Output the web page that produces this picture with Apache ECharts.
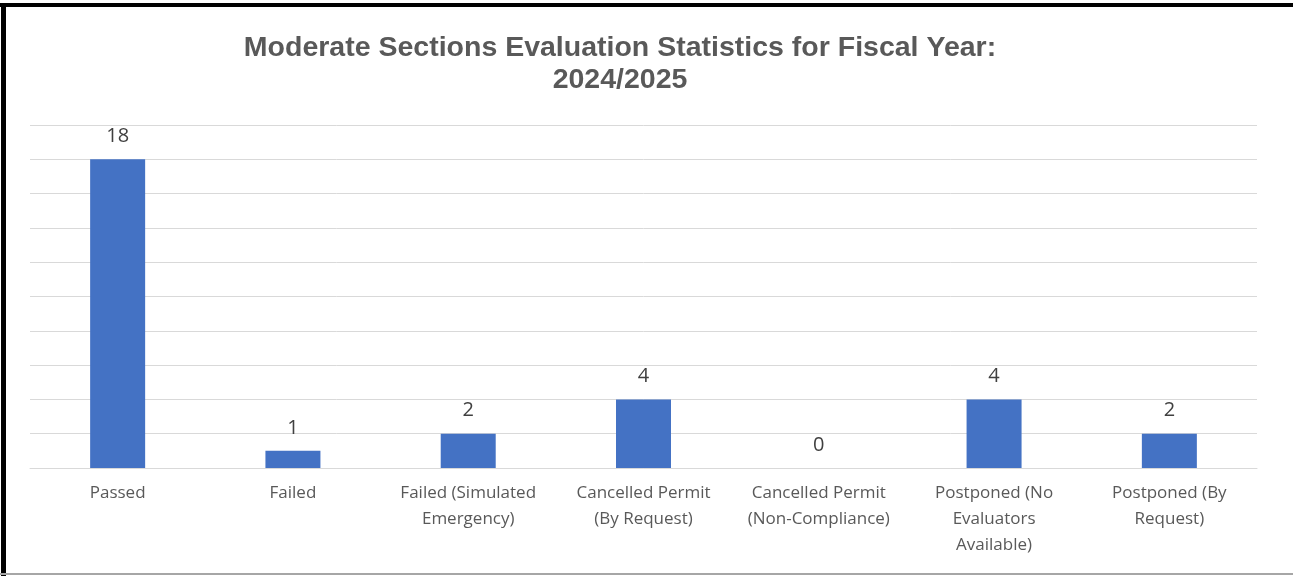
<!DOCTYPE html>
<html>
<head>
<meta charset="utf-8">
<script src="https://cdn.jsdelivr.net/npm/echarts@6/dist/echarts.min.js"></script>
<style>
  html, body { margin: 0; padding: 0; background: #fff; }
  #chart { width: 1293px; height: 576px; }
</style>
</head>
<body>
<div id="chart"></div>
<script>
// Evaluation outcomes for moderate sections, fiscal year 2024/2025
const categories = [
  'Passed',
  'Failed',
  'Failed (Simulated\nEmergency)',
  'Cancelled Permit\n(By Request)',
  'Cancelled Permit\n(Non-Compliance)',
  'Postponed (No\nEvaluators\nAvailable)',
  'Postponed (By\nRequest)'
];
const counts = [18, 1, 2, 4, 0, 4, 2];

const chart = echarts.init(document.getElementById('chart'));

chart.setOption({
  backgroundColor: '#ffffff',
  animation: false,
  title: {
    text: 'Moderate Sections Evaluation Statistics for Fiscal Year:\n2024/2025',
    left: 615,
    textAlign: 'center',
    top: 27,
    textStyle: {
      fontFamily: 'Liberation Sans, Arial, sans-serif',
      fontWeight: 'bold',
      fontSize: 28.5,
      lineHeight: 32,
      color: '#595959'
    }
  },
  grid: { left: 30, right: 36, top: 125, bottom: 108 },
  xAxis: {
    type: 'category',
    data: categories,
    axisLine: { lineStyle: { color: '#d9d9d9', width: 1 } },
    axisTick: { show: false },
    axisLabel: {
      interval: 0,
      margin: 12,
      fontFamily: 'Open Sans, Noto Sans, sans-serif',
      fontSize: 17,
      lineHeight: 26,
      color: '#595959'
    }
  },
  yAxis: {
    type: 'value',
    min: 0,
    max: 20,
    interval: 2,
    axisLabel: { show: false },
    axisLine: { show: false },
    axisTick: { show: false },
    splitLine: { lineStyle: { color: '#d9d9d9', width: 1 } }
  },
  series: [{
    type: 'bar',
    data: counts,
    barWidth: 55,
    itemStyle: { color: '#4472C4' },
    label: {
      show: true,
      position: 'top',
      distance: 13,
      fontFamily: 'Open Sans, Noto Sans, sans-serif',
      fontSize: 20,
      color: '#404040'
    }
  }],
  graphic: [
    { type: 'rect', shape: { x: 0, y: 3, width: 1293, height: 4 }, style: { fill: '#000' }, silent: true },
    { type: 'rect', shape: { x: 1, y: 3, width: 5, height: 573 }, style: { fill: '#000' }, silent: true },
    { type: 'rect', shape: { x: 0, y: 573, width: 1293, height: 2 }, style: { fill: '#a6a6a6' }, silent: true }
  ]
});
</script>
</body>
</html>
